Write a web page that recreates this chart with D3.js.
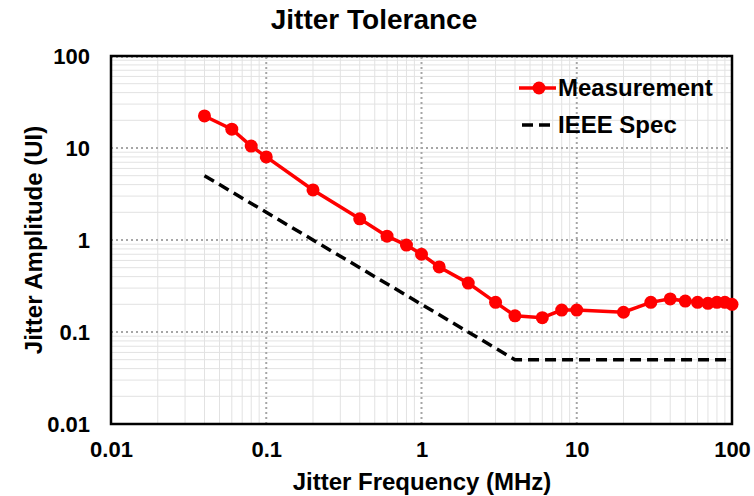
<!DOCTYPE html>
<html>
<head>
<meta charset="utf-8">
<script src="https://cdn.jsdelivr.net/npm/d3@7"></script>
<style>
  body { margin: 0; background: #fff; }
  text { font-family: "Liberation Sans", Arial, sans-serif; font-weight: bold; }
</style>
</head>
<body>
<svg id="canvas" width="754" height="496"></svg>
<script>
// measured jitter tolerance
const measFreq = [0.04, 0.06, 0.08, 0.1, 0.2, 0.4, 0.6, 0.8, 1, 1.3, 2, 3, 4, 6, 8, 10, 20, 30, 40, 50, 60, 70, 80, 90, 100];
const measAmp = [22.3, 16, 10.5, 8.0, 3.5, 1.7, 1.1, 0.88, 0.70, 0.51, 0.34, 0.21, 0.15, 0.143, 0.173, 0.173, 0.164, 0.21, 0.229, 0.217, 0.21, 0.205, 0.21, 0.21, 0.20];

// IEEE spec mask
const specFreq = [0.04, 4, 100];
const specAmp = [5, 0.05, 0.05];

const xTicks = [0.01, 0.1, 1, 10, 100];
const yTicks = [0.01, 0.1, 1, 10, 100];
const legendLabels = ["Measurement", "IEEE Spec"];

const svg = d3.select("#canvas");
const margin = { left: 111, top: 56, right: 22, bottom: 72 };
const W = 754, H = 496;

const x = d3.scaleLog().domain([0.01, 100]).range([margin.left, W - margin.right]);
const y = d3.scaleLog().domain([0.01, 100]).range([H - margin.bottom, margin.top]);

// minor grid lines
function minors(ticks) {
  const out = [];
  for (let i = 0; i < ticks.length - 1; i++) {
    for (let k = 2; k <= 9; k++) out.push(ticks[i] * k);
  }
  return out;
}

const grid = svg.append("g");
grid.selectAll(".mx")
  .data(minors(xTicks))
  .enter()
  .append("line")
  .attr("x1", d => x(d)).attr("x2", d => x(d))
  .attr("y1", y(0.01)).attr("y2", y(100))
  .attr("stroke", "#e2e2e2").attr("stroke-width", 1);
grid.selectAll(".my")
  .data(minors(yTicks))
  .enter()
  .append("line")
  .attr("y1", d => y(d)).attr("y2", d => y(d))
  .attr("x1", x(0.01)).attr("x2", x(100))
  .attr("stroke", "#e2e2e2").attr("stroke-width", 1);

// major grid lines (dotted)
grid.selectAll(".Mx")
  .data(xTicks.slice(1, -1))
  .enter()
  .append("line")
  .attr("x1", d => x(d)).attr("x2", d => x(d))
  .attr("y1", y(0.01)).attr("y2", y(100))
  .attr("stroke", "#a6a6a6").attr("stroke-width", 2).attr("stroke-dasharray", "2,3");
grid.selectAll(".My")
  .data(yTicks.slice(1, -1))
  .enter()
  .append("line")
  .attr("y1", d => y(d)).attr("y2", d => y(d))
  .attr("x1", x(0.01)).attr("x2", x(100))
  .attr("stroke", "#a6a6a6").attr("stroke-width", 2).attr("stroke-dasharray", "2,3");
grid.append("line")
  .attr("x1", x(0.01)).attr("x2", x(100))
  .attr("y1", y(100) + 1).attr("y2", y(100) + 1)
  .attr("stroke", "#a6a6a6").attr("stroke-width", 2).attr("stroke-dasharray", "2,3");

// frame
svg.append("rect")
  .attr("x", x(0.01)).attr("y", y(100))
  .attr("width", x(100) - x(0.01)).attr("height", y(0.01) - y(100))
  .attr("fill", "none").attr("stroke", "#000").attr("stroke-width", 2.5);

// axes
const fmt = d => (d >= 1 ? d3.format("d")(d) : String(d));
const xAxis = svg.append("g")
  .attr("transform", `translate(0,${y(0.01)})`)
  .call(d3.axisBottom(x).tickValues(xTicks).tickFormat(fmt).tickSize(0).tickPadding(17));
xAxis.select(".domain").remove();
xAxis.selectAll("text").attr("font-size", 22).attr("fill", "#000")
  .style("font-family", "'Liberation Sans', Arial, sans-serif").style("font-weight", "bold");

const yAxis = svg.append("g")
  .attr("transform", `translate(${x(0.01)},0)`)
  .call(d3.axisLeft(y).tickValues(yTicks).tickFormat(fmt).tickSize(0).tickPadding(21));
yAxis.select(".domain").remove();
yAxis.selectAll("text").attr("font-size", 22).attr("fill", "#000")
  .style("font-family", "'Liberation Sans', Arial, sans-serif").style("font-weight", "bold");

// spec line
const line = d3.line().x(d => x(d[0])).y(d => y(d[1]));
svg.append("path")
  .datum(d3.zip(specFreq, specAmp))
  .attr("d", line)
  .attr("fill", "none").attr("stroke", "#000").attr("stroke-width", 3.5)
  .attr("stroke-dasharray", "11,6");

// measurement
const meas = d3.zip(measFreq, measAmp);
svg.append("path")
  .datum(meas)
  .attr("d", line)
  .attr("fill", "none").attr("stroke", "#ff0000").attr("stroke-width", 3.5);
svg.append("g").selectAll("circle")
  .data(meas)
  .enter()
  .append("circle")
  .attr("cx", d => x(d[0])).attr("cy", d => y(d[1]))
  .attr("r", 6.5).attr("fill", "#ff0000");

// legend
const lg = svg.append("g");
lg.append("line").attr("x1", 519).attr("x2", 556).attr("y1", 88).attr("y2", 88)
  .attr("stroke", "#ff0000").attr("stroke-width", 3.5);
lg.append("circle").attr("cx", 539).attr("cy", 88).attr("r", 6.5).attr("fill", "#ff0000");
lg.append("line").attr("x1", 522).attr("x2", 551).attr("y1", 125).attr("y2", 125)
  .attr("stroke", "#000").attr("stroke-width", 3.5).attr("stroke-dasharray", "11,6");
lg.selectAll("text")
  .data(legendLabels)
  .enter()
  .append("text")
  .attr("x", 558).attr("y", (d, i) => 88 + i * 37)
  .attr("dy", "0.35em")
  .attr("font-size", 24)
  .text(d => d);

// titles
svg.append("text")
  .attr("x", 374).attr("y", 29)
  .attr("text-anchor", "middle").attr("font-size", 28)
  .text("Jitter Tolerance");
svg.append("text")
  .attr("x", 422).attr("y", 490)
  .attr("text-anchor", "middle").attr("font-size", 24)
  .text("Jitter Frequency (MHz)");
svg.append("text")
  .attr("transform", `translate(42,${(y(100) + y(0.01)) / 2}) rotate(-90)`)
  .attr("text-anchor", "middle").attr("font-size", 24)
  .text("Jitter Amplitude (UI)");
</script>
</body>
</html>
